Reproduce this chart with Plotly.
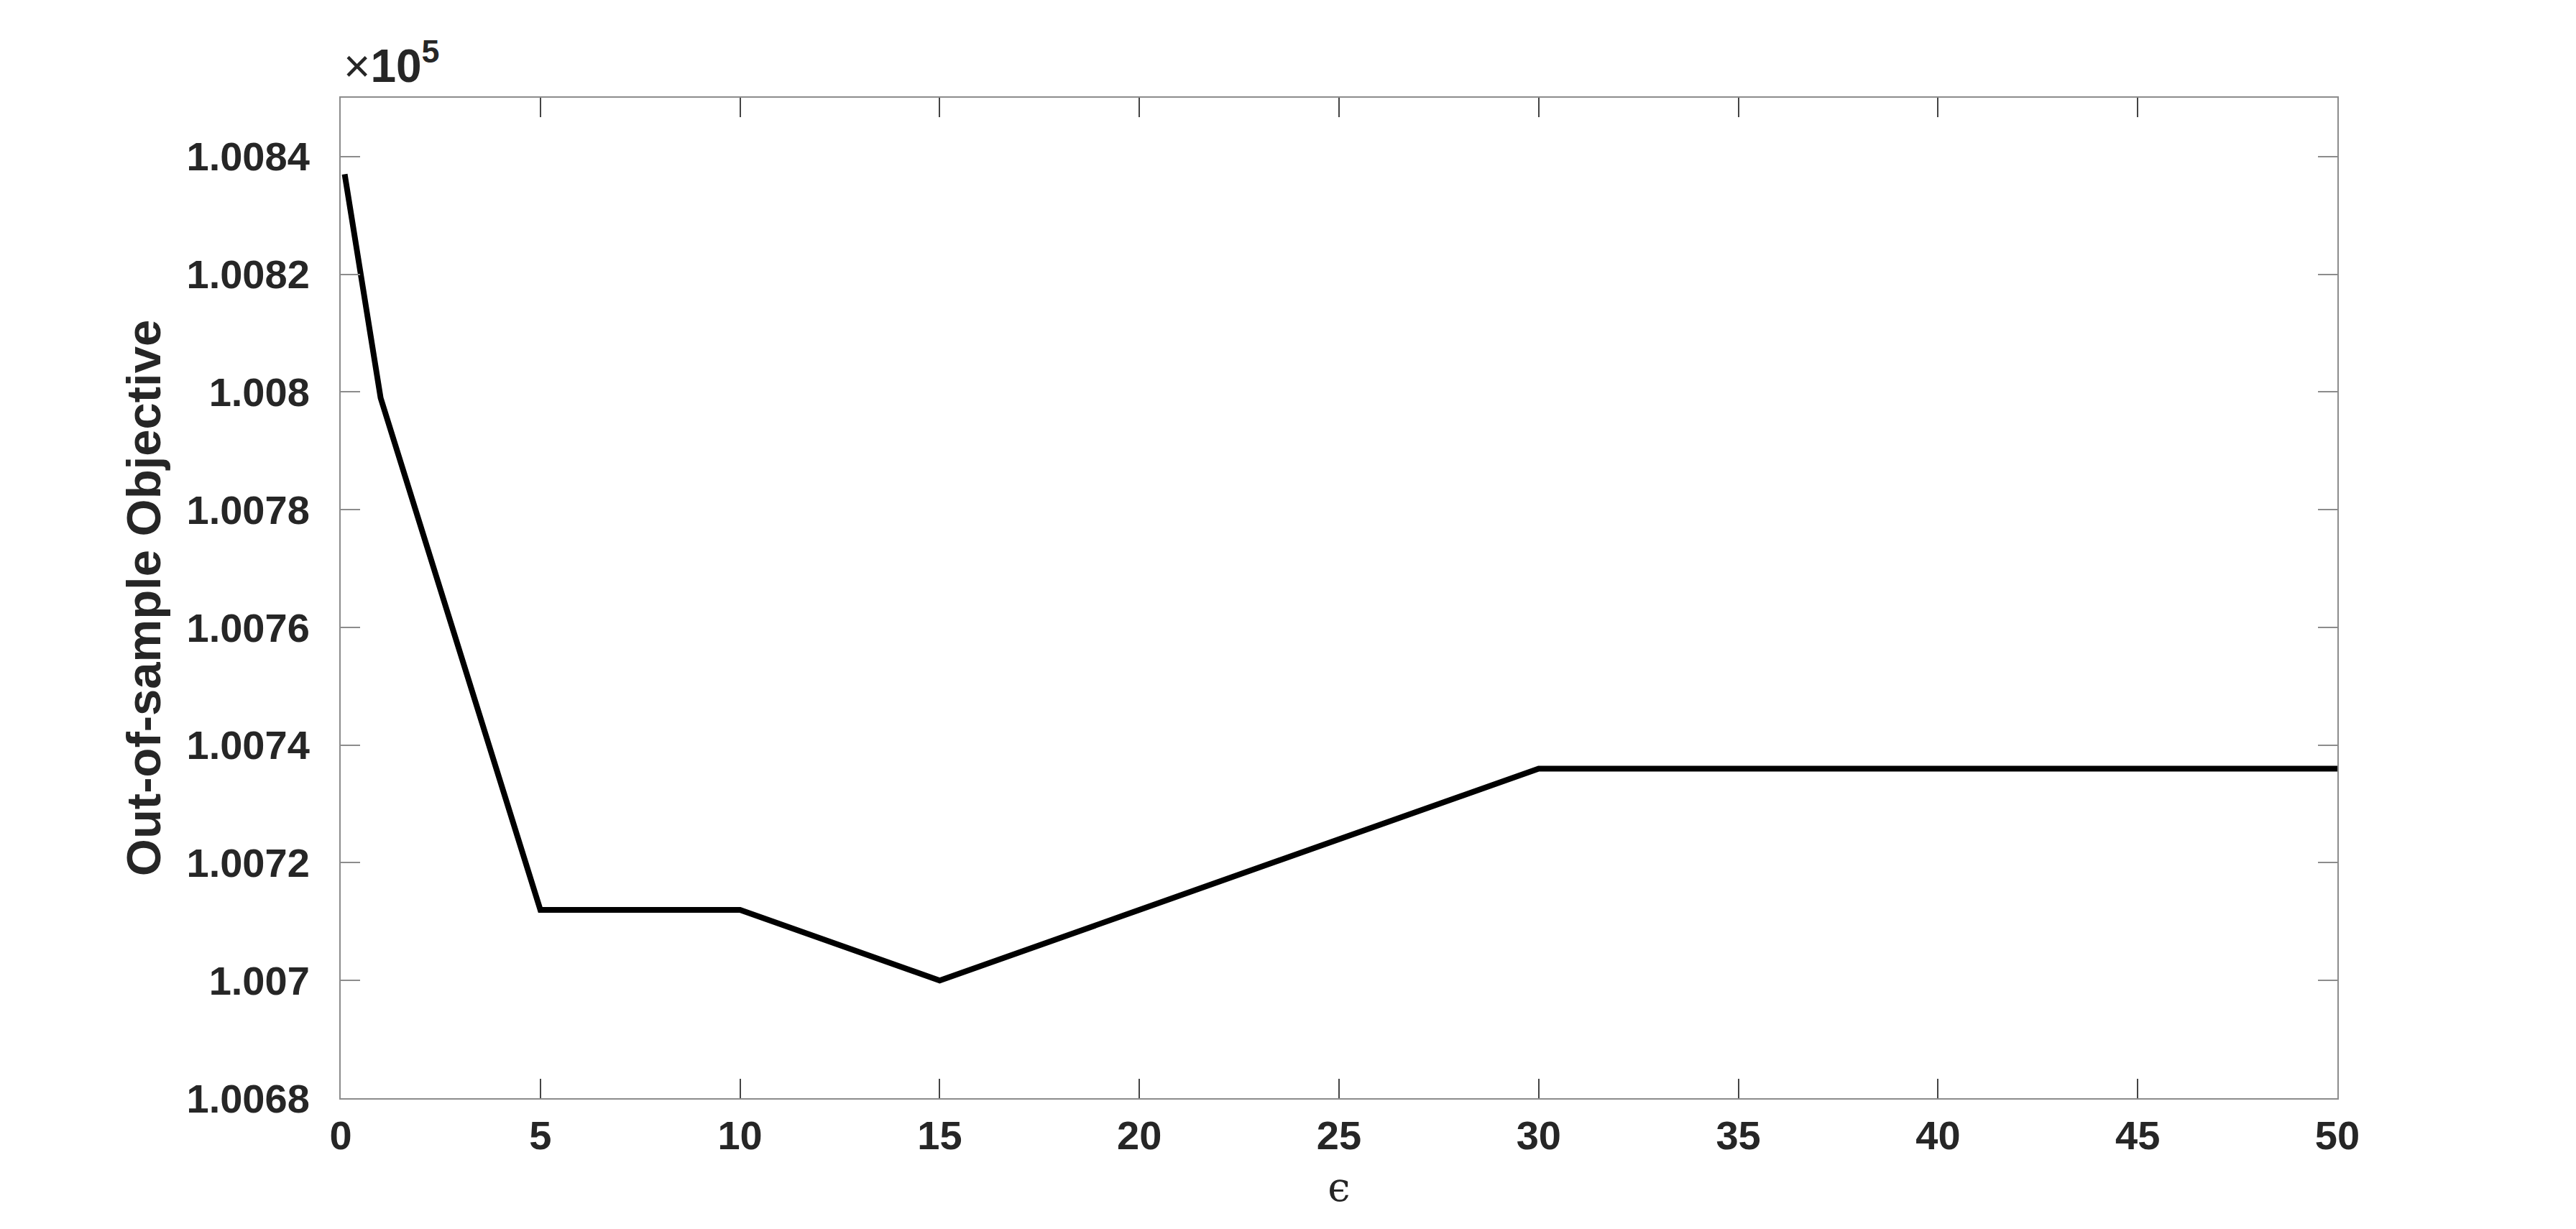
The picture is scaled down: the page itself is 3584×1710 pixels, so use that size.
import plotly.graph_objects as go

# epsilon values and out-of-sample objective (raw values, axis shows x1e5)
epsilon = [0.1, 1, 5, 10, 15, 20, 25, 30, 35, 40, 45, 50]
objective = [100837, 100799, 100712, 100712, 100700, 100712, 100724,
             100736, 100736, 100736, 100736, 100736]

x_ticks = list(range(0, 55, 5))
y_ticks = list(range(100680, 100850, 20))
y_ticklabels = [f"{v / 1e5:.4f}".rstrip("0") for v in y_ticks]

FONT = "Liberation Sans, Arial, Helvetica, sans-serif"
BOX = "#8c8c8c"

# MATLAB-ish axis: boxed, inward ticks on all sides
def axis(**kw):
    a = dict(showgrid=False, zeroline=False, showline=True, linecolor=BOX, linewidth=2,
             mirror="ticks", ticks="inside", ticklen=27, tickwidth=2,
             tickfont=dict(family=FONT, size=56, color="#262626", weight="bold"))
    a |= kw
    return a

fig = go.Figure()
fig.add_trace(go.Scatter(
    x=epsilon, y=objective, mode="lines",
    line=dict(color="black", width=8), showlegend=False, hoverinfo="skip"
))

fig.update_layout(
    width=3584, height=1710,
    margin=dict(l=466, r=340, t=128, b=190),
    paper_bgcolor="white", plot_bgcolor="white",
    xaxis=axis(range=[0, 50], tickvals=x_ticks, tickcolor="#444444", ticklabelstandoff=2,
               title=dict(text="ϵ", standoff=22,
                          font=dict(family="DejaVu Serif, serif", size=56, color="#262626"))),
    yaxis=axis(range=[100680, 100850], tickvals=y_ticks, ticktext=y_ticklabels,
               tickcolor=BOX, ticklabelstandoff=30,
               title=dict(text="Out-of-sample Objective", standoff=14,
                          font=dict(family=FONT, size=67, color="#262626", weight="bold"))),
    annotations=[dict(
        xref="paper", yref="paper", x=0, y=1, xanchor="left", yanchor="bottom",
        xshift=2, yshift=6, showarrow=False,
        text="×<b>10<sup>5</sup></b>",
        font=dict(family=FONT, size=64, color="#262626"),
    )],
)

fig.write_html("out.html")
